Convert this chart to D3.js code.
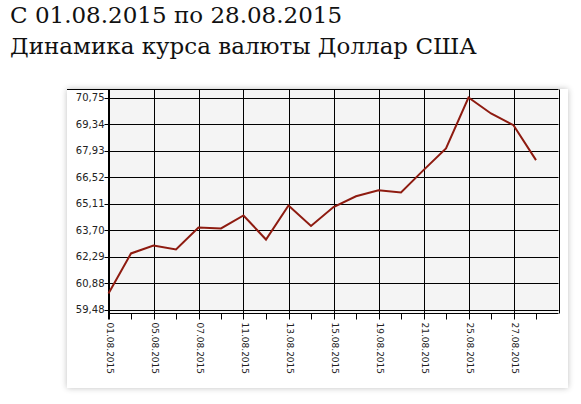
<!DOCTYPE html>
<html>
<head>
<meta charset="utf-8">
<script src="https://cdn.jsdelivr.net/npm/d3@7"></script>
<style>
  body { margin: 0; background: #fff; }
  .title { font-family: "DejaVu Serif", Georgia, serif; font-size: 23px; fill: #111; }
  .tick-label { font-family: "DejaVu Sans", Verdana, sans-serif; font-size: 10px; fill: #222; }
  .xlab { font-size: 9px; }
</style>
</head>
<body>
<div id="chart"></div>
<script>
// dates (CBR quotes), one every trading day
const dates = ["01.08.2015","04.08.2015","05.08.2015","06.08.2015","07.08.2015","08.08.2015",
  "11.08.2015","12.08.2015","13.08.2015","14.08.2015","15.08.2015","18.08.2015","19.08.2015",
  "20.08.2015","21.08.2015","22.08.2015","25.08.2015","26.08.2015","27.08.2015","28.08.2015"];
const rates = [60.33, 62.46, 62.88, 62.67, 63.84, 63.79, 64.48, 63.20, 65.01, 63.92,
  64.93, 65.50, 65.82, 65.70, 66.89, 68.04, 70.75, 69.90, 69.28, 67.42];
const yTicks = [59.48, 60.88, 62.29, 63.70, 65.11, 66.52, 67.93, 69.34, 70.75];
const titleLines = ["С 01.08.2015 по 28.08.2015", "Динамика курса валюты Доллар США"];

const width = 581, height = 404;
const plot = { left: 108.5, right: 558.5, top: 89.5, bottom: 313.5 };

const svg = d3.select('#chart').append('svg')
  .attr('width', width)
  .attr('height', height);

// shadow for the card
const defs = svg.append('defs');
const f = defs.append('filter').attr('id', 'shadow')
  .attr('x', -0.1).attr('y', -0.1).attr('width', 1.2).attr('height', 1.2);
f.append('feGaussianBlur').attr('in', 'SourceAlpha').attr('stdDeviation', 3);
f.append('feOffset').attr('dx', 0).attr('dy', 0).attr('result', 'b');
f.append('feComponentTransfer').append('feFuncA').attr('type', 'linear').attr('slope', 0.25);
const m = f.append('feMerge');
m.append('feMergeNode');
m.append('feMergeNode').attr('in', 'SourceGraphic');

// titles
svg.selectAll('text.title')
  .data(titleLines)
  .enter()
  .append('text')
  .attr('class', 'title')
  .attr('x', 10)
  .attr('y', (d, i) => 23 + i * 31)
  .text(d => d);

// card
svg.append('rect')
  .attr('x', 67).attr('y', 89)
  .attr('width', 501).attr('height', 299)
  .attr('fill', '#fff')
  .attr('filter', 'url(#shadow)');

// plot background
svg.append('rect')
  .attr('x', plot.left).attr('y', plot.top)
  .attr('width', plot.right - plot.left)
  .attr('height', plot.bottom - plot.top)
  .attr('fill', '#f4f4f4');

const x = d3.scaleLinear().domain([0, dates.length]).range([plot.left, plot.right]);
const y = d3.scaleLinear().domain([59.48, 70.75]).range([309.5, 97.5]);

const grid = svg.append('g').attr('stroke', '#000').attr('stroke-width', 1);

// horizontal grid lines
grid.selectAll('line.h')
  .data(yTicks)
  .enter()
  .append('line')
  .attr('x1', plot.left - 4).attr('x2', plot.right)
  .attr('y1', d => Math.round(y(d)) + 0.5)
  .attr('y2', d => Math.round(y(d)) + 0.5);

// vertical grid lines at labelled dates + right edge
const idx = d3.range(dates.length + 1);
grid.selectAll('line.v')
  .data(idx.filter(i => i % 2 === 0))
  .enter()
  .append('line')
  .attr('x1', i => Math.round(x(i)) + 0.5)
  .attr('x2', i => Math.round(x(i)) + 0.5)
  .attr('y1', plot.top)
  .attr('y2', i => i === dates.length ? plot.bottom : plot.bottom + 6);

// minor ticks
grid.selectAll('line.minor')
  .data(idx.filter(i => i % 2 === 1))
  .enter()
  .append('line')
  .attr('x1', i => Math.round(x(i)) + 0.5)
  .attr('x2', i => Math.round(x(i)) + 0.5)
  .attr('y1', plot.bottom)
  .attr('y2', plot.bottom + 6);

// top border, axis lines
grid.append('line').attr('x1', 67).attr('x2', plot.right).attr('y1', plot.top).attr('y2', plot.top);
grid.append('line').attr('x1', plot.left).attr('x2', plot.right).attr('y1', plot.bottom).attr('y2', plot.bottom);
grid.append('line').attr('x1', plot.left).attr('x2', plot.left).attr('y1', plot.top).attr('y2', plot.bottom + 6);

// y labels
svg.selectAll('text.ylab')
  .data(yTicks)
  .enter()
  .append('text')
  .attr('class', 'tick-label')
  .attr('text-anchor', 'end')
  .attr('x', plot.left - 4)
  .attr('y', d => y(d))
  .attr('dy', '0.35em')
  .text(d => d.toFixed(2).replace('.', ','));

// x labels (every second date)
svg.selectAll('text.xlab')
  .data(dates.map((d, i) => ({ d, i })).filter(o => o.i % 2 === 0))
  .enter()
  .append('text')
  .attr('class', 'tick-label xlab')
  .attr('transform', o => `translate(${x(o.i) + 2},${plot.bottom + 9}) rotate(90)`)
  .attr('dy', '0.35em')
  .text(o => o.d);

// the rate line
const line = d3.line()
  .x((d, i) => x(i))
  .y(d => y(d));

svg.append('path')
  .datum(rates)
  .attr('d', line)
  .attr('fill', 'none')
  .attr('stroke', '#8e1b10')
  .attr('stroke-width', 2);
</script>
</body>
</html>
